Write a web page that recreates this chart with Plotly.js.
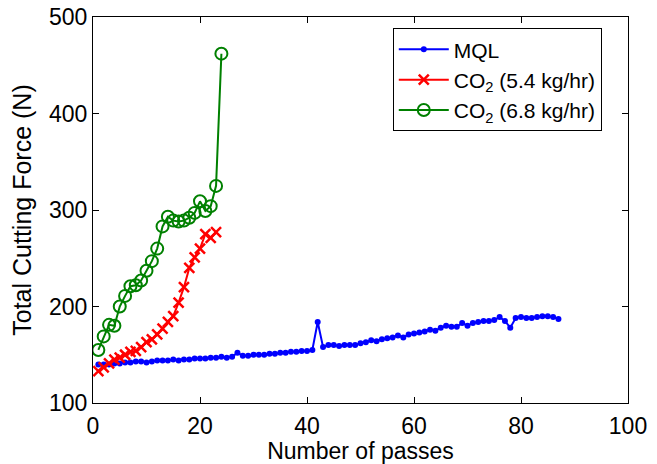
<!DOCTYPE html>
<html>
<head>
<meta charset="utf-8">
<script src="https://cdn.plot.ly/plotly-3.0.1.min.js"></script>
<style>html,body{margin:0;padding:0;background:#fff}#chart{width:657px;height:464px}</style>
</head>
<body>
<div id="chart"></div>
<script>
const mqlValues = [140,140,140,141,141,142,142,143,143,142,143,144,144,144,145,144,145,145,146,146,146,147,147,148,147,148,152,149,149,150,150,150,151,151,152,152,153,153,154,154,155,184,158,160,160,159,160,160,160,162,163,165,164,166,167,168,170,168,171,172,173,174,176,175,178,180,179,179,183,180,183,184,185,185,186,189,185,178,188,189,188,188,189,190,190,189,187];
const co2LowValues = [133,137,141,145,147,150,153,154,158,163,166,171,177,184,190,204,220,240,251,260,275,271,277];
const co2HighValues = [155,169,181,180,200,211,221,222,227,237,247,260,283,293,289,288,289,292,297,309,299,304,325,462];
const seriesNames = ["MQL", "CO<sub>2</sub> (5.4 kg/hr)", "CO<sub>2</sub> (6.8 kg/hr)"];
const xTickVals = [0,20,40,60,80,100];
const yTickVals = [100,200,300,400,500];

const passes = n => Array.from({length:n}, (_, i) => i + 1);

const traces = [
  {x: passes(mqlValues.length), y: mqlValues, name: seriesNames[0], mode: 'lines+markers',
   line: {color: '#0000ff', width: 2}, marker: {symbol: 'circle', size: 6, color: '#0000ff'}},
  {x: passes(co2LowValues.length), y: co2LowValues, name: seriesNames[1], mode: 'lines+markers',
   line: {color: '#ff0000', width: 2}, marker: {symbol: 'x-thin-open', size: 10, color: '#ff0000', line: {color: '#ff0000', width: 2.5}}},
  {x: passes(co2HighValues.length), y: co2HighValues, name: seriesNames[2], mode: 'lines+markers',
   line: {color: '#008000', width: 2}, marker: {symbol: 'circle-open', size: 12, color: '#008000', line: {color: '#008000', width: 2}}}
];

const axisCommon = {
  showgrid: false, zeroline: false, showline: true, linecolor: '#000', linewidth: 1,
  mirror: 'ticks', ticks: 'inside', ticklen: 6, tickcolor: '#000', automargin: false,
  tickfont: {family: 'Liberation Sans, Arial, sans-serif', size: 23, color: '#000'}
};

const layout = {
  width: 657, height: 464,
  margin: {l: 93, r: 29, t: 17, b: 61},
  paper_bgcolor: '#fff', plot_bgcolor: '#fff',
  font: {family: 'Liberation Sans, Arial, sans-serif', color: '#000'},
  xaxis: Object.assign({}, axisCommon, {range: [0, 100], tickvals: xTickVals, ticklabelstandoff: 2,
    title: {text: 'Number of passes', font: {size: 23, color: '#000'}, standoff: 4}}),
  yaxis: Object.assign({}, axisCommon, {range: [100, 500], tickvals: yTickVals, ticklabelstandoff: 0,
    title: {text: 'Total Cutting Force (N)', font: {size: 25, color: '#000'}, standoff: 10}}),
  showlegend: true,
  legend: {x: 0.951, xanchor: 'right', y: 0.971, yanchor: 'top', bordercolor: '#000', borderwidth: 1,
    bgcolor: '#fff', font: {size: 21, color: '#000'}, tracegroupgap: 0, itemwidth: 50}
};

Plotly.newPlot('chart', traces, layout, {displayModeBar: false, staticPlot: true});
</script>
</body>
</html>
